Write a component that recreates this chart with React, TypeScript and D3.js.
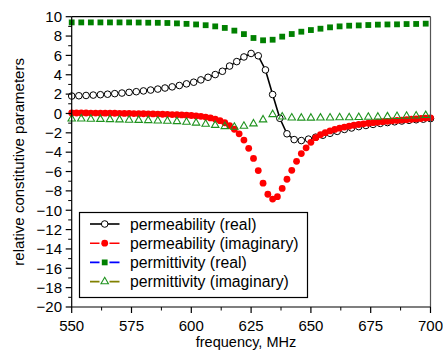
import React from "react";
import * as d3 from "d3";

const W = 443;
const H = 352;

// permeability (real), sampled every 3 MHz
const freqMuRe = [550,553,556,559,562,565,568,571,574,577,580,583,586,589,592,595,598,601,604,607,610,613,616,619,622,625,628,631,634,637,640,643,646,649,652,655,658,661,664,667,670,673,676,679,682,685,688,691,694,697,700];
const muRe = [1.8,1.83,1.86,1.9,1.94,1.99,2.05,2.11,2.18,2.25,2.33,2.42,2.52,2.63,2.75,2.89,3.06,3.23,3.47,3.74,4.02,4.36,4.9,5.36,5.84,6.2,5.96,4.5,1.96,-0.5,-2.1,-2.7,-2.8,-2.65,-2.45,-2.25,-2.05,-1.85,-1.65,-1.5,-1.36,-1.24,-1.13,-1.03,-0.94,-0.86,-0.78,-0.71,-0.65,-0.59,-0.53];

// permeability (imaginary), sampled every 2 MHz
const freqMuIm = [550,552,554,556,558,560,562,564,566,568,570,572,574,576,578,580,582,584,586,588,590,592,594,596,598,600,602,604,606,608,610,612,614,616,618,620,622,624,626,628,630,632,634,636,638,640,642,644,646,648,650,652,654,656,658,660,662,664,666,668,670,672,674,676,678,680,682,684,686,688,690,692,694,696,698,700];
const muIm = [0.05,0.05,0.05,0.05,0.04,0.04,0.03,0.03,0.02,0.02,0.01,0,0,-0.01,-0.02,-0.03,-0.04,-0.05,-0.06,-0.08,-0.09,-0.11,-0.13,-0.15,-0.18,-0.21,-0.25,-0.3,-0.37,-0.46,-0.58,-0.74,-0.96,-1.25,-1.63,-2.1,-2.75,-3.6,-4.65,-5.9,-7.2,-8.35,-8.85,-8.6,-7.75,-6.8,-5.88,-4.95,-4.15,-3.55,-2.98,-2.5,-2.2,-1.98,-1.8,-1.65,-1.52,-1.41,-1.31,-1.22,-1.14,-1.07,-1.01,-0.95,-0.9,-0.85,-0.81,-0.76,-0.72,-0.68,-0.64,-0.6,-0.56,-0.52,-0.48,-0.45];

// permittivity, sampled every 4 MHz
const freqEps = [550,554,558,562,566,570,574,578,582,586,590,594,598,602,606,610,614,618,622,626,630,634,638,642,646,650,654,658,662,666,670,674,678,682,686,690,694,698];
const epsRe = [9.41,9.41,9.41,9.41,9.41,9.41,9.41,9.4,9.38,9.37,9.35,9.31,9.26,9.2,9.12,9.0,8.84,8.56,8.2,7.8,7.56,7.62,7.94,8.21,8.45,8.62,8.76,8.9,9.0,9.07,9.1,9.14,9.18,9.2,9.21,9.24,9.25,9.28];
const epsIm = [-0.55,-0.55,-0.58,-0.6,-0.62,-0.65,-0.68,-0.7,-0.72,-0.76,-0.79,-0.83,-0.89,-0.98,-1.1,-1.22,-1.34,-1.41,-1.3,-1.06,-0.65,-0.1,-0.35,-0.45,-0.47,-0.47,-0.46,-0.45,-0.43,-0.42,-0.4,-0.38,-0.36,-0.33,-0.3,-0.27,-0.24,-0.2];

const xTicks = [550, 575, 600, 625, 650, 675, 700];
const yTicks = [10, 8, 6, 4, 2, 0, -2, -4, -6, -8, -10, -12, -14, -16, -18, -20];
const legendLabels = [
  "permeability (real)",
  "permeability (imaginary)",
  "permittivity (real)",
  "permittivity (imaginary)",
];

const FONT = "'Liberation Sans', Arial, Helvetica, sans-serif";
const GREEN = "#008000";
const TRI_GREEN = "#1f931f";

export default function App() {
  const x = d3.scaleLinear().domain([550, 700]).range([71.7, 430.5]);
  const y = d3.scaleLinear().domain([-20, 10]).range([307, 16.7]);

  const line = d3
    .line<number>()
    .x((_, i) => x(freqMuRe[i]))
    .y((d) => y(d));

  const minorX = d3.range(550, 700.1, 12.5).filter((v) => !xTicks.includes(v));
  const minorY = d3.range(-20, 10.1, 1).filter((v) => !yTicks.includes(v));

  const tri = d3.symbol().type(d3.symbolTriangle).size(24)() as string;
  const fmt = (v: number) => (v < 0 ? "\u2212" + Math.abs(v) : String(v));

  const x0 = x.range()[0];
  const x1 = x.range()[1];
  const yb = y.range()[0];
  const yt = y.range()[1];

  const lgX = 79.5;
  const lgY = 212.5;
  const rowY = (i: number) => 224 + i * 19.2;
  const SQ = 5.8;

  return (
    <svg
      width={W}
      height={H}
      style={{ position: "absolute", left: 0, top: 0, background: "#fff" }}
      fontFamily={FONT}
    >
      <rect x={0} y={0} width={W} height={H} fill="#fff" />
      {/* data */}
      <path d={line(muRe) || ""} fill="none" stroke="#000" strokeWidth={1.6} />
      {muRe.map((v, i) => (
        <circle key={"a" + i} cx={x(freqMuRe[i])} cy={y(v)} r={3.3} fill="#fff" stroke="#000" strokeWidth={1} />
      ))}
      {muIm.map((v, i) => (
        <circle key={"b" + i} cx={x(freqMuIm[i])} cy={y(v)} r={3.4} fill="#ff0000" />
      ))}
      {epsRe.map((v, i) => (
        <rect key={"c" + i} x={x(freqEps[i]) - SQ / 2} y={y(v) - SQ / 2} width={SQ} height={SQ} fill={GREEN} />
      ))}
      {epsIm.map((v, i) => (
        <path key={"d" + i} d={tri} transform={`translate(${x(freqEps[i])},${y(v)})`} fill="none" stroke={TRI_GREEN} strokeWidth={1.1} />
      ))}

      {/* frame */}
      <line x1={x0} x2={x1} y1={yt} y2={yt} stroke="#000" strokeWidth={1.2} />
      <line x1={x1} x2={x1} y1={yt} y2={yb} stroke="#555" strokeWidth={1.2} />
      <line x1={x0} x2={x1} y1={yb} y2={yb} stroke="#000" strokeWidth={1.2} />
      <line x1={x0} x2={x0} y1={yt} y2={yb} stroke="#000" strokeWidth={1.2} />

      {/* y axis */}
      {yTicks.map((t) => (
        <g key={"yt" + t}>
          <line x1={x0 - 6} x2={x0} y1={y(t)} y2={y(t)} stroke="#000" strokeWidth={1.2} />
          <text x={62} y={y(t) + 5.3} textAnchor="end" fontSize={15} fill="#000">
            {fmt(t)}
          </text>
        </g>
      ))}
      {minorY.map((t) => (
        <line key={"ym" + t} x1={x0 - 3.5} x2={x0} y1={y(t)} y2={y(t)} stroke="#000" strokeWidth={1} />
      ))}

      {/* x axis */}
      {xTicks.map((t) => (
        <g key={"xt" + t}>
          <line x1={x(t)} x2={x(t)} y1={yb} y2={yb + 6} stroke="#000" strokeWidth={1.2} />
          <text x={x(t)} y={330.5} textAnchor="middle" fontSize={15} fill="#000">
            {t}
          </text>
        </g>
      ))}
      {minorX.map((t) => (
        <line key={"xm" + t} x1={x(t)} x2={x(t)} y1={yb} y2={yb + 3.5} stroke="#000" strokeWidth={1} />
      ))}

      <text x={246} y={347} textAnchor="middle" fontSize={14.5} fill="#000">
        frequency, MHz
      </text>
      <text
        transform={`translate(24,${(yt + yb) / 2}) rotate(-90)`}
        textAnchor="middle"
        fontSize={15}
        fill="#000"
      >
        relative constitutive parameters
      </text>

      {/* legend */}
      <rect x={lgX} y={lgY} width={228} height={85} fill="#fff" stroke="#000" strokeWidth={1.2} />
      <g>
        <line x1={90} x2={119.5} y1={rowY(0)} y2={rowY(0)} stroke="#000" strokeWidth={1.6} />
        <circle cx={104.7} cy={rowY(0)} r={3.3} fill="#fff" stroke="#000" />
        <line x1={90} x2={119.5} y1={rowY(1)} y2={rowY(1)} stroke="#ff0000" strokeWidth={1.6} strokeDasharray="9.5,10,10" />
        <circle cx={104.7} cy={rowY(1)} r={3.4} fill="#ff0000" />
        <line x1={90} x2={119.5} y1={rowY(2)} y2={rowY(2)} stroke="#0000ff" strokeWidth={1.6} strokeDasharray="9.5,10,10" />
        <rect x={104.7 - SQ / 2} y={rowY(2) - SQ / 2} width={SQ} height={SQ} fill={GREEN} />
        <line x1={90} x2={119.5} y1={rowY(3)} y2={rowY(3)} stroke="#808000" strokeWidth={1.6} strokeDasharray="9.5,10,10" />
        <path d={tri} transform={`translate(104.7,${rowY(3)})`} fill="#fff" stroke={TRI_GREEN} strokeWidth={1.1} />
        {legendLabels.map((l, i) => (
          <text key={l} x={130} y={rowY(i) + 5.5} fontSize={15.8} fill="#000">
            {l}
          </text>
        ))}
      </g>
    </svg>
  );
}
